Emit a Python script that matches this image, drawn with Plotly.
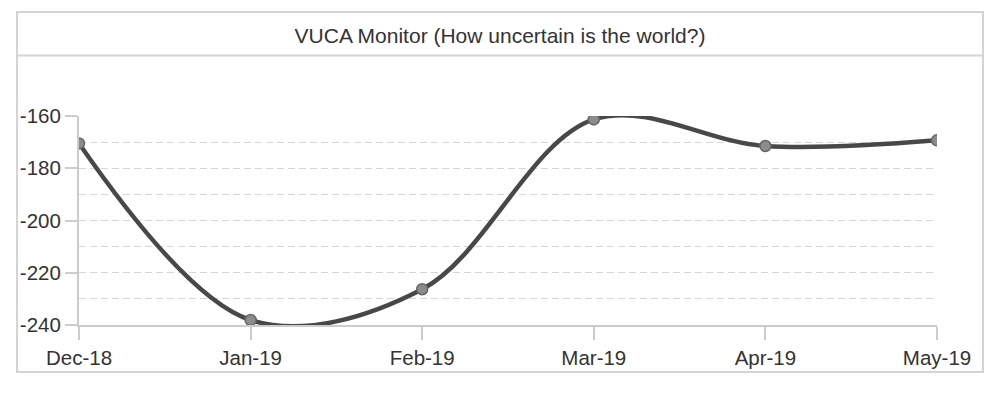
import plotly.graph_objects as go

months = ["Dec-18", "Jan-19", "Feb-19", "Mar-19", "Apr-19", "May-19"]
vuca = [-170.5, -238.1, -226.3, -161.3, -171.5, -169.3]
y_ticks = [-240, -220, -200, -180, -160]
y_tick_text = ["-240", "-220", "-200", "-180", "-160"]

OFF = 8  # default page body margin
W, H = 993 - OFF, 393 - OFF
L, R, T, B = 79 - OFF, 937 - OFF, 116 - OFF, 325 - OFF  # plot area in figure pixels

def px_x(x):
    return (x - OFF - L) / (R - L)

def px_y(y):
    return (B - (y - OFF)) / (B - T)

fig = go.Figure()
fig.add_trace(go.Scatter(
    x=months, y=vuca, mode="lines+markers",
    line=dict(color="#484848", width=4.5, shape="spline", smoothing=1),
    marker=dict(size=11, color="#8c8c8c", line=dict(color="#666666", width=1.5)),
    cliponaxis=True, showlegend=False,
))

font = "Liberation Sans, Arial, sans-serif"
fig.update_layout(
    width=W, height=H,
    margin=dict(l=L, r=W - R, t=T, b=H - B),
    paper_bgcolor="white", plot_bgcolor="white",
    title=dict(text="VUCA Monitor (How uncertain is the world?)",
               x=px_x(500), xref="paper", xanchor="center",
               y=1 - (35.5 - OFF) / H, yref="container", yanchor="middle",
               font=dict(family=font, size=21, color="#333333")),
    font=dict(family=font, size=20.5, color="#333333"),
    xaxis=dict(type="category", range=[0, len(months) - 1],
               showline=True, linecolor="#cccccc", linewidth=2,
               ticks="outside", ticklen=13, tickcolor="#cccccc", tickwidth=1.5,
               showgrid=False, zeroline=False,
               tickfont=dict(family=font, size=20.5, color="#333333")),
    yaxis=dict(range=[-240, -160], tickvals=y_ticks, ticktext=y_tick_text,
               showline=True, linecolor="#cccccc", linewidth=2,
               ticks="outside", ticklen=12, tickcolor="#cccccc", tickwidth=1.5,
               showgrid=True, gridcolor="#d6d6d6", gridwidth=1, griddash="7px,4px",
               minor=dict(dtick=10, showgrid=True, gridcolor="#d6d6d6",
                          gridwidth=1, griddash="7px,4px", ticks=""),
               zeroline=False,
               tickfont=dict(family=font, size=20.5, color="#333333")),
    shapes=[
        dict(type="rect", xref="paper", yref="paper",
             x0=px_x(17), x1=px_x(983), y0=px_y(372), y1=px_y(12),
             line=dict(color="#d4d4d4", width=2), fillcolor="rgba(0,0,0,0)", layer="below"),
        dict(type="line", xref="paper", yref="paper",
             x0=px_x(17), x1=px_x(983), y0=px_y(55.5), y1=px_y(55.5),
             line=dict(color="#d4d4d4", width=2)),
    ],
)

fig.write_html("out.html")
